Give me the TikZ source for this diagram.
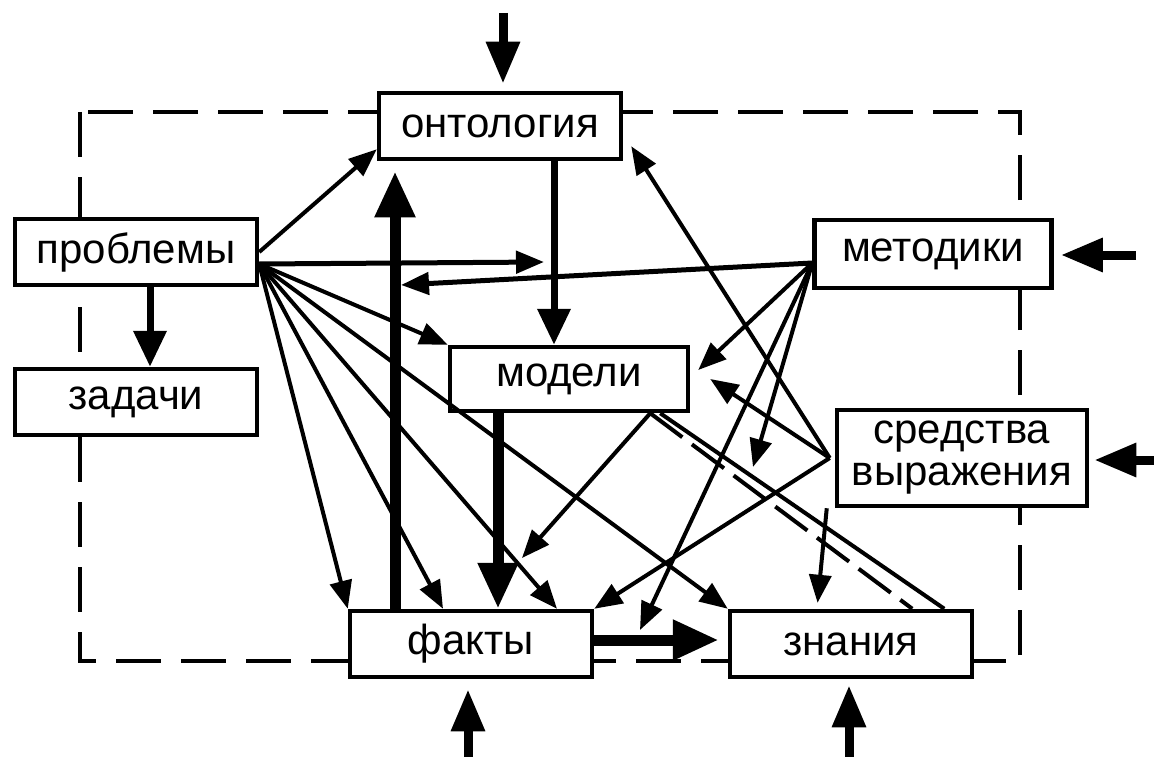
\documentclass[tikz,border=0pt]{standalone}
\usepackage{fontspec}
\setmainfont{Liberation Sans}
\usetikzlibrary{arrows.meta}

\begin{document}
\begin{tikzpicture}[
  x=1pt, y=-1pt,
  block/.style={rectangle, draw, line width=4.5pt, fill=white, minimum width=242pt, minimum height=66pt, inner sep=0pt, font=\fontsize{42}{42}\selectfont},
  arr/.style={-{Triangle[length=28pt,width=22pt]}, line width=4pt},
  midarr/.style={-{Triangle[length=36pt,width=32pt]}, line width=7pt},
  bigarr/.style={-{Triangle[length=46pt,width=38pt]}, line width=11pt},
  extarr/.style={-{Triangle[length=42pt,width=32pt]}, line width=9pt},
  dashbox/.style={line width=4pt, dash pattern=on 45pt off 20pt},
  node distance=150pt
]
\useasboundingbox (0,0) rectangle (1154,757);
\draw[dashbox] (80,112) rectangle (1020,661);

\node[block] (ont) at (500,126) {онтология};
\node[block] (prob) at (136,252) {проблемы};
\node[block, below of=prob] (task) {задачи};
\node[block, minimum width=237pt, minimum height=68pt] (meth) at (933,254) {методики};
\node[block, minimum width=238pt, minimum height=64pt] (mod) at (569,379) {модели};
\node[block, minimum width=250pt, minimum height=96pt, align=center] (sred) at (962,458) {средства\\выражения};
\node[block] (fact) at (471,644) {факты};
\node[block, right of=fact, node distance=380pt] (know) {знания};

\coordinate (pfan) at ([yshift=-12pt]prob.east);
\coordinate (mfan) at ([yshift=-9pt]meth.west);
\coordinate (sfan) at ([xshift=-5pt]sred.west);
\coordinate (mlink) at ([xshift=-40pt]mod.south east);
\coordinate (tipA) at (544,262);
\coordinate (tipB) at (401,285);
\coordinate (tipC) at (753,467);
\coordinate (tipD) at (640,630);
\coordinate (tipE) at (522,558);
\coordinate (inOnt) at (503,13);
\coordinate (inMeth) at (1136,255);
\coordinate (inSred) at (1154,460);
\coordinate (inFact) at (468,757);
\coordinate (inKnow) at (849,757);

\draw[extarr, shorten >=7pt] (inOnt) -- (inOnt |- ont.north);
\draw[extarr, shorten >=7pt] (inMeth) -- (inMeth -| meth.east);
\draw[extarr, shorten >=5pt] (inSred) -- (inSred -| sred.east);
\draw[extarr, shorten >=10pt] (inFact) -- (inFact |- fact.south);
\draw[extarr, shorten >=6pt] (inKnow) -- (inKnow |- know.south);

\draw[midarr] ([xshift=14pt]prob.south) -- ([xshift=14pt]task.north);
\draw[midarr] ([xshift=54pt]ont.south) -- ([xshift=-15pt]mod.north);
\draw[bigarr, shorten >=10pt] ([xshift=-76pt]fact.north) -- ([xshift=-105pt]ont.south);
\draw[bigarr] ([xshift=-71pt]mod.south) -- ([xshift=27pt]fact.north);
\draw[bigarr, shorten >=9pt] ([yshift=4pt]fact.east) -- ([yshift=4pt]know.west);

\draw[arr] (prob.east) -- ([yshift=12pt]ont.south west);
\draw[arr, line width=5pt] (pfan) -- (tipA);
\draw[arr] (pfan) -- (mod.north west);
\draw[arr] (pfan) -- (know.north west);
\draw[arr] (pfan) -- ([xshift=86pt]fact.north);
\draw[arr] (pfan) -- ([xshift=-28pt]fact.north);
\draw[arr] (pfan) -- (fact.north west);

\draw[arr, line width=5pt] (mfan) -- (tipB);
\draw[arr] (mfan) -- ([xshift=8pt,yshift=9pt]mod.east);
\draw[arr] (mfan) -- (tipC);
\draw[arr] (mfan) -- (tipD);

\draw[arr] (sfan) -- ([xshift=8pt,yshift=15pt]ont.south east);
\draw[arr] (sfan) -- ([xshift=20pt]mod.east);
\draw[arr] (sfan) -- (fact.north east);
\draw[arr, shorten >=6pt] ([xshift=-8pt]sred.south west) -- ([xshift=-34pt]know.north);

\draw[arr] (mlink) -- (tipE);
\draw[line width=4pt] ([xshift=10pt]mlink) -- ([xshift=-30pt]know.north east);
\draw[line width=4pt, dash pattern=on 40pt off 12pt] (mlink) -- ([xshift=-62pt]know.north east);
\end{tikzpicture}
\end{document}
